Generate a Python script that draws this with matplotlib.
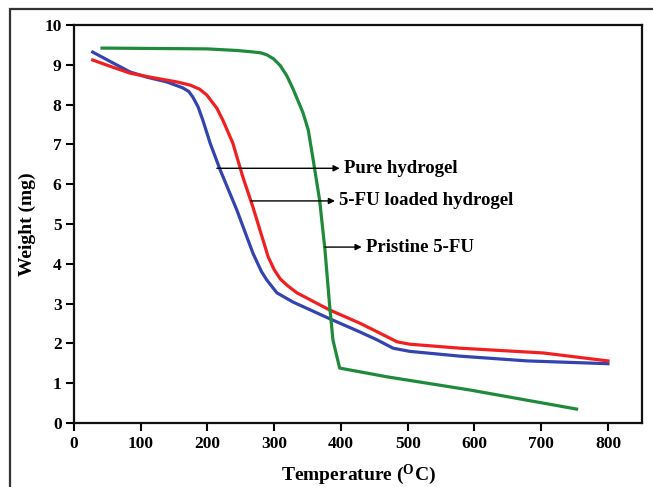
import matplotlib
matplotlib.use("Agg")
import matplotlib.pyplot as plt
from matplotlib.patches import Rectangle

# Data
pure_T = [28, 58, 84, 109, 139, 163, 172, 178, 186, 193, 204, 219, 244, 268, 281, 289, 304, 328, 383, 428, 454, 478, 503, 578, 679, 800]
pure_W = [9.32, 9.05, 8.82, 8.69, 8.57, 8.42, 8.33, 8.19, 7.94, 7.61, 7.03, 6.36, 5.35, 4.27, 3.8, 3.59, 3.27, 3.04, 2.62, 2.29, 2.09, 1.88, 1.8, 1.68, 1.56, 1.49]

loaded_T = [28, 58, 84, 114, 154, 174, 188, 199, 214, 223, 238, 253, 268, 291, 300, 309, 320, 334, 383, 428, 458, 484, 503, 578, 703, 800]
loaded_W = [9.12, 8.94, 8.79, 8.69, 8.57, 8.49, 8.39, 8.24, 7.91, 7.61, 7.03, 6.18, 5.43, 4.17, 3.85, 3.62, 3.45, 3.27, 2.84, 2.51, 2.26, 2.04, 1.98, 1.88, 1.76, 1.56]

pristine_T = [42, 199, 244, 264, 280, 289, 299, 309, 319, 328, 343, 351, 358, 368, 376, 383, 388, 398, 469, 593, 753]
pristine_W = [9.42, 9.4, 9.36, 9.33, 9.3, 9.25, 9.15, 8.98, 8.72, 8.4, 7.8, 7.36, 6.65, 5.6, 4.35, 2.95, 2.08, 1.38, 1.16, 0.83, 0.35]

labels = ["Pure hydrogel", "5-FU loaded hydrogel", "Pristine 5-FU"]
arrow_start = [(214, 6.4), (265, 5.58), (376, 4.42)]
arrow_end = [(398, 6.4), (391, 5.58), (431, 4.42)]

x_ticks = [0, 100, 200, 300, 400, 500, 600, 700, 800]
y_ticks = [0, 1, 2, 3, 4, 5, 6, 7, 8, 9, 10]

plt.rcParams['font.family'] = ['Liberation Serif', 'DejaVu Serif']
plt.rcParams['font.weight'] = 'bold'
plt.rcParams['mathtext.fontset'] = 'custom'
plt.rcParams['mathtext.rm'] = 'Liberation Serif:bold'
plt.rcParams['mathtext.bf'] = 'Liberation Serif:bold'

fig = plt.figure(figsize=(6.53, 4.87), dpi=100)
# outer frame (partially cropped)
fig.patches.append(Rectangle((10/653, -0.2), 1.2, (487-9)/487 + 0.2,
                             transform=fig.transFigure, fill=False,
                             edgecolor='#333333', linewidth=1.6))

ax = fig.add_axes([74/653, (487-423)/487, (642-74)/653, (423-25)/487])

ax.plot(pure_T, pure_W, color='#3344b0', lw=2.3, solid_joinstyle='round')
ax.plot(loaded_T, loaded_W, color='#f02020', lw=2.3, solid_joinstyle='round')
ax.plot(pristine_T, pristine_W, color='#1f8a3c', lw=2.3, solid_joinstyle='round')

for lab, s, e in zip(labels, arrow_start, arrow_end):
    ax.annotate("", xy=e, xytext=s,
                arrowprops=dict(arrowstyle='-|>', color='black', lw=1.0,
                                mutation_scale=9, shrinkA=0, shrinkB=0))
    ax.text(e[0] + 6, e[1], lab, fontsize=13.5, fontweight='bold',
            va='center', ha='left')

ax.set_xlim(0, 851)
ax.set_ylim(0, 10)
ax.set_xticks(x_ticks)
ax.set_yticks(y_ticks)
ax.tick_params(axis='both', which='both', direction='out', length=6, width=1.5,
               labelsize=12.5, top=False, right=False, pad=3)
for lab in ax.get_xticklabels() + ax.get_yticklabels():
    lab.set_fontweight('bold')
for sp in ax.spines.values():
    sp.set_linewidth(1.6)
    sp.set_color('#111111')

ax.set_xlabel("Temperature ($\\mathregular{^{O}}$C)", fontsize=14, fontweight='bold', labelpad=8)
ax.set_ylabel("Weight (mg)", fontsize=14, fontweight='bold', labelpad=6)

fig.savefig("out.png", dpi=100)
